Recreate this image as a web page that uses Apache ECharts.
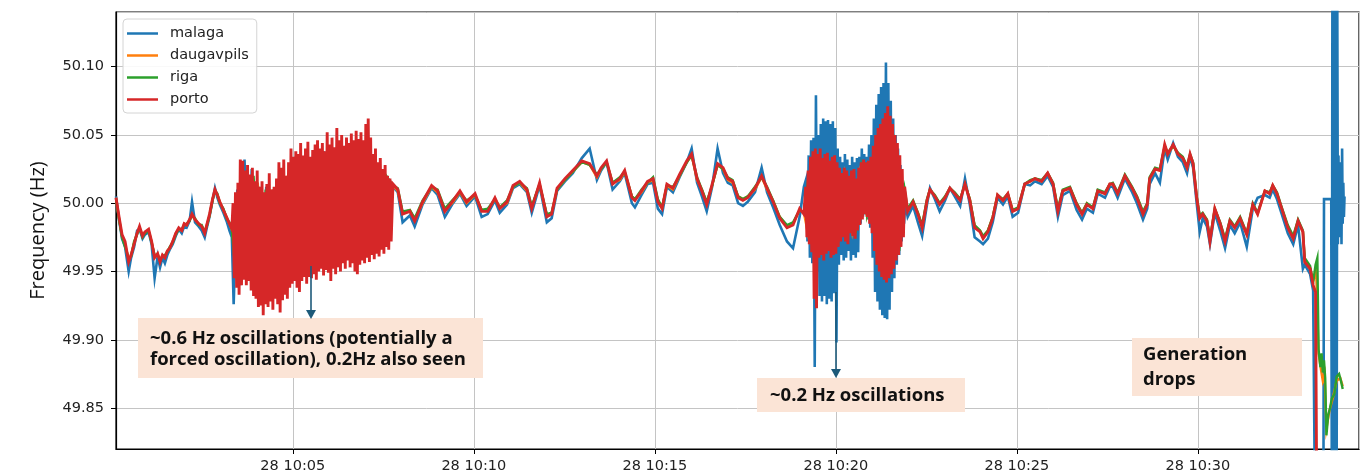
<!DOCTYPE html>
<html><head><meta charset="utf-8">
<script src="https://cdn.jsdelivr.net/npm/echarts@6/dist/echarts.min.js"></script>
<style>html,body{margin:0;padding:0;background:#fff}#c{width:1369px;height:475px}</style>
</head><body><div id="c"></div><script>
// time in seconds after 28 10:00:00, value in Hz
const BASE = Date.UTC(2025, 3, 28, 10, 0, 0);
const seriesNames = ['malaga', 'daugavpils', 'riga', 'porto'];
const seriesColors = ['#1f77b4', '#ff7f0e', '#2ca02c', '#d62728'];
const yTickLabels = ['49.85', '49.90', '49.95', '50.00', '50.05', '50.10'];

// ---- calm stretch A (10:00 - 10:03:20)
const timesA = [7,12,17,22,28,32,37,42,46,51,55,61,66,71,76,80,84,88,92,96,101,106,111,116,120,124,129,133,138,144,149,154,158,162,167,171,175,179,185,191,195,199];
const portoA = [50.004,49.990,49.977,49.972,49.957,49.962,49.970,49.978,49.983,49.976,49.979,49.981,49.972,49.960,49.963,49.957,49.962,49.960,49.965,49.967,49.972,49.978,49.982,49.980,49.985,49.984,49.988,49.992,49.988,49.985,49.983,49.978,49.985,49.992,50.003,50.010,50.006,50.001,49.995,49.989,49.985,49.981];
const malagaA = [50.005,49.988,49.974,49.968,49.950,49.960,49.968,49.980,49.981,49.974,49.977,49.979,49.970,49.945,49.961,49.953,49.960,49.956,49.962,49.966,49.970,49.976,49.981,49.978,49.983,49.982,49.987,50.001,49.986,49.983,49.980,49.975,49.983,49.990,50.002,50.011,50.004,49.999,49.993,49.986,49.980,49.975];
const rigaA = [50.003,49.988,49.975,49.968,49.960,49.961,49.972,49.977,49.982,49.975,49.978,49.980,49.971,49.962,49.962,49.959,49.961,49.962,49.964,49.968,49.971,49.977,49.981,49.981,49.984,49.985,49.987,49.991,49.989,49.984,49.984,49.979,49.984,49.991,50.002,50.009,50.007,50.000,49.996,49.988,49.986,49.980];
const daugavpilsA = [50.004,49.989,49.976,49.970,49.959,49.962,49.971,49.978,49.982,49.976,49.979,49.980,49.972,49.961,49.963,49.958,49.962,49.961,49.965,49.967,49.972,49.978,49.981,49.980,49.985,49.984,49.988,49.991,49.988,49.985,49.983,49.979,49.985,49.991,50.003,50.009,50.006,50.001,49.995,49.989,49.985,49.981];

// ---- ~0.6 Hz oscillation block (10:03:20 - 10:07:45)
const portoB1 = [[201,50.000],[203,49.945],[205,50.008],[207,49.938],[209,50.015],[211,49.933],[213,50.032],[215,49.940],[217,50.031],[219,49.944],[221,50.024],[223,49.940],[225,50.028],[227,49.943],[229,50.021],[231,49.936],[233,50.026],[235,49.932],[237,50.016],[239,49.930],[241,50.024],[243,49.924],[245,50.012],[247,49.925],[249,50.016],[251,49.918],[253,50.008],[255,49.926],[257,50.014],[259,49.924],[261,50.022],[263,49.928],[265,50.010],[267,49.922],[269,50.012],[271,49.930],[273,50.018],[275,49.926],[277,50.030],[279,49.920],[281,50.026],[283,49.929],[285,50.032],[287,49.933],[289,50.020],[291,49.930],[293,50.030],[295,49.938],[297,50.040],[299,49.941],[301,50.034],[303,49.943],[305,50.038],[307,49.938],[309,50.036],[311,49.935],[313,50.044],[315,49.943],[317,50.035],[319,49.946],[321,50.040],[323,49.941],[325,50.045],[327,49.946],[329,50.034],[331,49.945],[333,50.039],[335,49.948],[337,50.043],[339,49.944],[341,50.046],[343,49.950],[345,50.040],[347,49.952],[349,50.044],[351,49.947],[353,50.038],[355,49.951],[357,50.052],[359,49.949],[361,50.043],[363,49.943],[365,50.048],[367,49.952],[369,50.041],[371,49.948],[373,50.055],[375,49.953],[377,50.046],[379,49.950],[381,50.050],[383,49.956],[385,50.042],[387,49.952],[389,50.048],[391,49.958],[393,50.044],[395,49.953],[397,50.051],[399,49.956],[401,50.046],[403,49.950],[405,50.053],[407,49.948],[409,50.047],[411,49.955],[413,50.052],[415,49.958],[417,50.046],[419,49.956],[421,50.058],[423,49.960],[425,50.062],[427,49.957],[429,50.048],[431,49.962],[433,50.036],[435,49.959],[437,50.040],[439,49.963],[441,50.030],[443,49.961],[445,50.033],[447,49.966],[449,50.025],[451,49.963],[453,50.028],[455,49.968],[457,50.020],[459,49.966],[461,50.018],[463,49.972]];
const malagaB1 = [[202,49.926],[208,50.010],[214,49.940],[220,50.032],[226,49.945],[232,50.025],[238,49.935],[244,50.012],[250,49.930],[256,50.012],[262,49.935],[268,50.010],[274,49.935],[280,50.025],[286,49.935],[292,50.015],[298,49.945],[304,50.034],[310,49.948],[316,50.033],[322,49.950],[328,50.033],[334,49.952],[340,50.036],[346,49.954],[352,50.038],[358,49.955],[364,50.037],[370,49.953],[376,50.045],[382,49.958],[388,50.042],[394,49.960],[400,50.044],[406,49.960],[412,50.046],[418,49.962],[424,50.052],[430,49.964],[436,50.034],[442,49.967],[448,50.025],[454,49.970],[460,50.016]];
const rigaB1 = [[205,49.950],[215,50.020],[225,49.945],[235,50.020],[245,49.935],[255,50.010],[265,49.940],[275,50.015],[285,49.940],[295,50.025],[305,49.950],[315,50.030],[325,49.955],[335,50.030],[345,49.955],[355,50.035],[365,49.957],[375,50.040],[385,49.960],[395,50.040],[405,49.962],[415,50.040],[425,49.965],[435,50.030],[445,49.970],[455,50.020]];
const daugavpilsB1 = [[206,49.960],[218,50.020],[230,49.950],[242,50.015],[254,49.940],[266,50.010],[278,49.945],[290,50.020],[302,49.955],[314,50.030],[326,49.960],[338,50.030],[350,49.960],[362,50.035],[374,49.962],[386,50.035],[398,49.965],[410,50.038],[422,49.968],[434,50.030],[446,49.972],[458,50.015]];

// ---- calm stretch C (10:07:45 - 10:19:07)
const timesC = [466,474,482,494,502,515,530,540,552,564,577,588,602,613,623,635,643,655,665,676,688,696,709,721,729,738,751,764,779,792,804,811,820,830,842,850,862,867,878,888,897,905,912,920,930,941,953,961,970,978,986,995,1004,1013,1021,1029,1038,1046,1054,1066,1077,1086,1096,1107,1119,1129,1140,1147];
const portoC = [50.014,50.010,49.992,49.994,49.987,50.001,50.013,50.009,49.994,50.001,50.009,50.001,50.007,49.994,49.994,50.004,49.996,50.001,50.013,50.016,50.010,49.996,50.015,49.990,49.992,50.011,50.018,50.024,50.031,50.029,50.020,50.026,50.031,50.014,50.018,50.024,50.004,50.002,50.009,50.016,50.018,50.001,49.996,50.014,50.011,50.021,50.031,50.036,50.018,50.009,49.999,50.014,50.029,50.026,50.018,50.016,50.004,50.002,50.004,50.011,50.020,50.011,50.001,49.989,49.982,49.984,49.996,49.992];
const malagaC = [50.012,50.008,49.986,49.991,49.983,49.999,50.011,50.006,49.990,49.999,50.007,49.998,50.005,49.990,49.992,50.002,49.993,49.999,50.011,50.014,50.008,49.993,50.013,49.986,49.989,50.009,50.016,50.022,50.033,50.040,50.017,50.024,50.030,50.010,50.016,50.022,50.000,49.997,50.006,50.014,50.015,49.996,49.992,50.012,50.008,50.019,50.030,50.040,50.015,50.005,49.994,50.012,50.040,50.022,50.015,50.013,50.000,49.998,50.001,50.008,50.026,50.008,49.997,49.984,49.972,49.967,49.990,50.012];
const rigaC = [50.013,50.011,49.994,49.995,49.989,50.002,50.012,50.010,49.996,50.002,50.008,50.002,50.006,49.995,49.996,50.003,49.997,50.002,50.012,50.015,50.011,49.998,50.014,49.992,49.993,50.010,50.017,50.023,50.030,50.028,50.021,50.025,50.030,50.015,50.019,50.023,50.005,50.003,50.010,50.015,50.019,50.003,49.997,50.013,50.012,50.020,50.030,50.035,50.019,50.010,50.001,50.013,50.028,50.025,50.019,50.017,50.005,50.003,50.005,50.012,50.019,50.012,50.002,49.990,49.984,49.986,49.995,49.993];
const daugavpilsC = [50.013,50.009,49.993,49.995,49.988,50.000,50.012,50.008,49.995,50.000,50.008,50.000,50.006,49.995,49.995,50.003,49.997,50.000,50.012,50.015,50.009,49.997,50.014,49.991,49.993,50.010,50.017,50.023,50.030,50.028,50.019,50.025,50.030,50.015,50.017,50.023,50.005,50.003,50.008,50.015,50.017,50.002,49.997,50.013,50.010,50.020,50.030,50.035,50.017,50.010,50.000,50.013,50.028,50.025,50.017,50.015,50.005,50.003,50.005,50.010,50.019,50.010,50.002,49.990,49.983,49.985,49.995,49.993];

// ---- ~0.2 Hz oscillation block (10:19:10 - 10:21:55)
const portoB2 = [[1150,50.012],[1152,49.975],[1154,50.024],[1156,49.970],[1158,50.034],[1160,49.964],[1162,50.038],[1164,49.930],[1166,50.040],[1168,49.923],[1170,50.036],[1172,49.960],[1174,50.040],[1176,49.962],[1178,50.033],[1180,49.958],[1182,50.036],[1184,49.963],[1186,50.037],[1188,49.965],[1190,50.031],[1192,49.960],[1194,50.034],[1196,49.962],[1198,50.035],[1200,49.963],[1202,50.030],[1204,49.968],[1206,50.026],[1208,49.972],[1210,50.022],[1212,49.975],[1214,50.026],[1216,49.972],[1218,50.024],[1220,49.970],[1222,50.020],[1224,49.978],[1226,50.024],[1228,49.976],[1230,50.025],[1232,49.974],[1234,50.018],[1236,49.980],[1238,50.026],[1240,49.984],[1242,50.030],[1244,49.988],[1246,50.032],[1248,49.992],[1250,50.030],[1252,49.990],[1254,50.031],[1256,49.985],[1258,50.034],[1260,49.978],[1262,50.042],[1264,49.965],[1266,50.050],[1268,49.955],[1270,50.055],[1272,49.950],[1274,50.058],[1276,49.946],[1278,50.062],[1280,49.944],[1282,50.066],[1284,49.942],[1286,50.071],[1288,49.945],[1290,50.064],[1292,49.948],[1294,50.058],[1296,49.952],[1298,50.050],[1300,49.958],[1302,50.044],[1304,49.962],[1306,50.035],[1308,49.968],[1310,50.025],[1312,49.975],[1314,50.012]];
const malagaB2 = [[1151,50.018],[1153,49.972],[1155,50.035],[1157,49.960],[1159,50.046],[1161,49.956],[1163,50.048],[1165,49.880],[1167,50.079],[1169,49.950],[1171,50.050],[1173,49.932],[1175,50.058],[1177,49.928],[1179,50.062],[1181,49.932],[1183,50.060],[1185,49.926],[1187,50.061],[1189,49.930],[1191,50.058],[1193,49.928],[1195,50.060],[1197,49.934],[1199,50.055],[1201,49.898],[1203,50.040],[1205,49.955],[1207,50.034],[1209,49.962],[1211,50.030],[1213,49.958],[1215,50.036],[1217,49.960],[1219,50.032],[1221,49.965],[1223,50.028],[1225,49.958],[1227,50.034],[1229,49.962],[1231,50.030],[1233,49.960],[1235,50.033],[1237,49.964],[1239,50.034],[1241,49.985],[1243,50.040],[1245,49.990],[1247,50.036],[1249,49.992],[1251,50.034],[1253,49.988],[1255,50.043],[1257,49.982],[1259,50.050],[1261,49.960],[1263,50.062],[1265,49.935],[1267,50.072],[1269,49.928],[1271,50.080],[1273,49.922],[1275,50.085],[1277,49.918],[1279,50.088],[1281,49.916],[1283,50.103],[1285,49.915],[1287,50.088],[1289,49.922],[1291,50.075],[1293,49.935],[1295,50.062],[1297,49.945],[1299,50.050],[1301,49.955],[1303,50.040],[1305,49.962],[1307,50.028],[1309,49.972],[1311,50.015],[1313,49.985],[1315,50.000]];
const rigaB2 = [[1152,50.010],[1161,49.970],[1170,50.030],[1179,49.965],[1188,50.030],[1197,49.965],[1206,50.020],[1215,49.978],[1224,50.018],[1233,49.978],[1242,50.025],[1251,49.993],[1260,50.030],[1269,49.955],[1278,50.055],[1287,49.950],[1296,50.050],[1305,49.965],[1314,50.010]];
const daugavpilsB2 = [[1155,49.975],[1167,50.025],[1179,49.968],[1191,50.028],[1203,49.970],[1215,50.020],[1227,49.980],[1239,50.022],[1251,49.992],[1263,50.035],[1275,49.955],[1287,50.050],[1299,49.960],[1311,50.010]];

// ---- calm stretch E (10:22 - 10:33:11)
const timesE = [1319,1328,1336,1343,1351,1356,1364,1372,1381,1389,1397,1406,1414,1422,1430,1439,1444,1452,1460,1468,1477,1485,1493,1502,1513,1522,1530,1541,1551,1560,1568,1576,1588,1599,1608,1616,1626,1634,1646,1654,1659,1667,1679,1691,1699,1709,1716,1720,1729,1737,1745,1750,1759,1767,1775,1782,1787,1792,1798,1803,1808,1815,1820,1828,1837,1845,1853,1861,1870,1881,1891,1899,1911,1919,1924,1931,1939,1949,1958,1966,1974,1977,1986,1991];
const portoE = [49.994,50.001,49.992,49.982,50.002,50.010,50.005,49.999,50.004,50.011,50.007,50.002,50.014,50.002,49.982,49.979,49.974,49.979,49.989,50.006,50.002,50.007,49.994,49.996,50.014,50.016,50.018,50.016,50.022,50.014,49.994,50.009,50.011,49.999,49.992,49.999,49.996,50.009,50.007,50.014,50.014,50.007,50.020,50.011,50.004,49.992,49.999,50.018,50.025,50.024,50.043,50.036,50.043,50.036,50.033,50.026,50.036,50.029,50.004,49.989,49.992,49.987,49.972,49.996,49.985,49.972,49.987,49.982,49.989,49.977,49.999,49.992,50.009,50.007,50.013,50.007,49.996,49.982,49.974,49.987,49.979,49.957,49.952,49.940];
const malagaE = [49.990,49.998,49.986,49.976,49.999,50.011,50.003,49.994,50.002,50.011,50.005,49.998,50.018,49.999,49.975,49.972,49.970,49.974,49.986,50.004,49.999,50.005,49.990,49.993,50.014,50.013,50.016,50.014,50.020,50.012,49.990,50.006,50.009,49.995,49.988,49.996,49.993,50.007,50.004,50.012,50.012,50.004,50.018,50.008,50.000,49.988,49.996,50.014,50.022,50.015,50.040,50.032,50.044,50.034,50.030,50.022,50.034,50.026,50.000,49.979,49.989,49.983,49.970,49.993,49.980,49.967,49.984,49.978,49.986,49.968,49.996,50.004,50.006,50.004,50.010,50.003,49.992,49.978,49.970,49.984,49.952,49.955,49.948,49.936];
const rigaE = [49.996,50.002,49.993,49.984,50.003,50.010,50.006,50.000,50.005,50.011,50.008,50.003,50.014,50.003,49.984,49.980,49.976,49.980,49.990,50.006,50.003,50.007,49.995,49.997,50.014,50.017,50.018,50.017,50.022,50.015,49.996,50.010,50.012,50.000,49.993,50.000,49.997,50.010,50.008,50.014,50.015,50.008,50.021,50.012,50.005,49.994,50.000,50.019,50.026,50.025,50.042,50.037,50.042,50.037,50.034,50.027,50.036,50.030,50.005,49.991,49.993,49.988,49.974,49.996,49.986,49.974,49.988,49.983,49.990,49.978,50.000,49.993,50.009,50.008,50.013,50.008,49.997,49.984,49.976,49.988,49.980,49.960,49.954,49.942];
const daugavpilsE = [49.995,50.001,49.993,49.983,50.002,50.010,50.005,50.000,50.004,50.011,50.007,50.003,50.014,50.003,49.983,49.980,49.975,49.980,49.990,50.006,50.002,50.007,49.995,49.996,50.014,50.016,50.018,50.016,50.022,50.014,49.995,50.009,50.011,50.000,49.993,50.000,49.996,50.009,50.007,50.014,50.014,50.007,50.020,50.011,50.005,49.993,49.999,50.018,50.025,50.024,50.042,50.036,50.042,50.036,50.033,50.026,50.035,50.029,50.005,49.990,49.992,49.988,49.973,49.996,49.985,49.973,49.987,49.983,49.989,49.977,49.999,49.992,50.009,50.007,50.013,50.007,49.996,49.983,49.975,49.987,49.979,49.958,49.952,49.943];

// ---- generation drop (10:33:11 - end)
const portoEnd = [[1995,49.935],[1997,49.780]];
const malagaEnd = [[1994,49.780],[2008,49.780],[2009,50.003],[2021,50.003],[2022,49.780],[2023,50.200],[2024,49.780],[2025,50.200],[2026,49.780],[2027,50.200],[2028,49.780],[2029,50.200],[2030,49.800],[2031,50.150],[2032,49.970],[2033,50.035],[2034,49.975],[2035,50.030],[2036,49.980],[2037,50.020],[2038,49.970],[2039,50.040],[2040,49.985],[2041,50.015],[2042,49.990],[2043,50.005]];
const rigaEnd = [[1995,49.955],[1998,49.960],[2000,49.893],[2003,49.880],[2005,49.890],[2007,49.876],[2009,49.885],[2011,49.872],[2013,49.830],[2016,49.845],[2019,49.850],[2022,49.857],[2026,49.860],[2030,49.873],[2034,49.875],[2037,49.870],[2040,49.864]];
const daugavpilsEnd = [[1996,49.950],[2000,49.890],[2004,49.878],[2007,49.870],[2010,49.875],[2013,49.835],[2018,49.848],[2024,49.858],[2030,49.870],[2036,49.872],[2040,49.866]];

function zip(ts, vs) { return ts.map((t, i) => [t, vs[i]]); }
const seriesData = {
  malaga: [].concat(zip(timesA, malagaA), malagaB1, zip(timesC, malagaC), malagaB2, zip(timesE, malagaE), malagaEnd),
  daugavpils: [].concat(zip(timesA, daugavpilsA), daugavpilsB1, zip(timesC, daugavpilsC), daugavpilsB2, zip(timesE, daugavpilsE), daugavpilsEnd),
  riga: [].concat(zip(timesA, rigaA), rigaB1, zip(timesC, rigaC), rigaB2, zip(timesE, rigaE), rigaEnd),
  porto: [].concat(zip(timesA, portoA), portoB1, zip(timesC, portoC), portoB2, zip(timesE, portoE), portoEnd)
};
const lineWidths = { malaga: 2.6, daugavpils: 2.4, riga: 2.4, porto: 2.9 };

function pad(n) { return (n < 10 ? '0' : '') + n; }
function toTime(arr) { return arr.map(p => [BASE + p[0] * 1000, p[1]]); }

const TICK_FONT = 'DejaVu Sans';
const NOTE_FONT = 'bold 18.5px "Open Sans"';
const chart = echarts.init(document.getElementById('c'), null, { renderer: 'canvas' });

const option = {
  useUTC: true,
  animation: false,
  color: seriesColors,
  backgroundColor: '#ffffff',
  grid: { left: 116, right: 10, top: 12, bottom: 26, show: true, borderColor: '#000', borderWidth: 1.2, containLabel: false },
  legend: {
    data: seriesNames, orient: 'vertical', left: 123, top: 19,
    padding: [7, 8, 6, 4], itemGap: 7, itemWidth: 31, itemHeight: 2.5, icon: 'rect',
    textStyle: { fontSize: 14.5, color: '#222', fontFamily: TICK_FONT, padding: [0, 0, 0, 7] },
    backgroundColor: 'rgba(255,255,255,0.9)', borderColor: '#d4d4d4', borderWidth: 1, borderRadius: 4
  },
  xAxis: {
    type: 'time',
    min: BASE + 7000, max: BASE + 2067000,
    splitNumber: 5,
    axisLine: { show: true, onZero: false, lineStyle: { color: '#000', width: 1.2 } },
    axisTick: { show: true, length: 5, lineStyle: { color: '#000' } },
    axisLabel: {
      fontSize: 14.5, color: '#222', fontFamily: TICK_FONT, margin: 10,
      formatter: function (v) { const d = new Date(v); return '28 ' + pad(d.getUTCHours()) + ':' + pad(d.getUTCMinutes()); }
    },
    splitLine: { show: true, lineStyle: { color: '#c4c4c4', width: 1 } }
  },
  yAxis: {
    type: 'value', min: 49.82, max: 50.14, splitNumber: 5,
    name: 'Frequency (Hz)', nameLocation: 'middle', nameGap: 68, nameRotate: 90,
    nameTextStyle: { fontSize: 20, color: '#111', fontFamily: 'Open Sans' },
    axisLine: { show: true, lineStyle: { color: '#000', width: 1.2 } },
    axisTick: { show: true, length: 5, lineStyle: { color: '#000' } },
    axisLabel: {
      fontSize: 14.5, color: '#222', fontFamily: TICK_FONT, margin: 12,
      showMinLabel: false, showMaxLabel: false,
      formatter: function (v) { const s = v.toFixed(2); return yTickLabels.indexOf(s) >= 0 ? s : ''; }
    },
    splitLine: { show: true, lineStyle: { color: '#c4c4c4', width: 1 } }
  },
  series: seriesNames.map((n, i) => ({
    name: n, type: 'line', data: toTime(seriesData[n]),
    showSymbol: false, symbol: 'none', sampling: null, clip: true,
    lineStyle: { width: lineWidths[n], color: seriesColors[i], join: 'miter' },
    itemStyle: { color: seriesColors[i] },
    z: 2 + i
  })),
  graphic: [
    { type: 'rect', z: 100, shape: { x: 138, y: 318, width: 345, height: 60 }, style: { fill: '#fbe4d6' } },
    { type: 'text', z: 101, style: { x: 150, y: 339, text: '~0.6 Hz oscillations (potentially a', font: NOTE_FONT, fill: '#111', verticalAlign: 'middle' } },
    { type: 'text', z: 101, style: { x: 150, y: 360, text: 'forced oscillation), 0.2Hz also seen', font: NOTE_FONT, fill: '#111', verticalAlign: 'middle' } },
    { type: 'rect', z: 100, shape: { x: 757, y: 378, width: 208, height: 34 }, style: { fill: '#fbe4d6' } },
    { type: 'text', z: 101, style: { x: 770, y: 396, text: '~0.2 Hz oscillations', font: NOTE_FONT, fill: '#111', verticalAlign: 'middle' } },
    { type: 'rect', z: 100, shape: { x: 1132, y: 338, width: 170, height: 58 }, style: { fill: '#fbe4d6' } },
    { type: 'text', z: 101, style: { x: 1143, y: 355, text: 'Generation', font: NOTE_FONT, fill: '#111', verticalAlign: 'middle' } },
    { type: 'text', z: 101, style: { x: 1143, y: 380, text: 'drops', font: NOTE_FONT, fill: '#111', verticalAlign: 'middle' } },
    { type: 'line', z: 102, shape: { x1: 311, y1: 266, x2: 311, y2: 312 }, style: { stroke: '#1d5a7a', lineWidth: 1.6 } },
    { type: 'polygon', z: 102, shape: { points: [[306, 310], [316, 310], [311, 319]] }, style: { fill: '#1d5a7a' } },
    { type: 'line', z: 102, shape: { x1: 836, y1: 292, x2: 836, y2: 371 }, style: { stroke: '#1d5a7a', lineWidth: 1.6 } },
    { type: 'polygon', z: 102, shape: { points: [[831, 369], [841, 369], [836, 378]] }, style: { fill: '#1d5a7a' } }
  ]
};
chart.setOption(option);
</script></body></html>
